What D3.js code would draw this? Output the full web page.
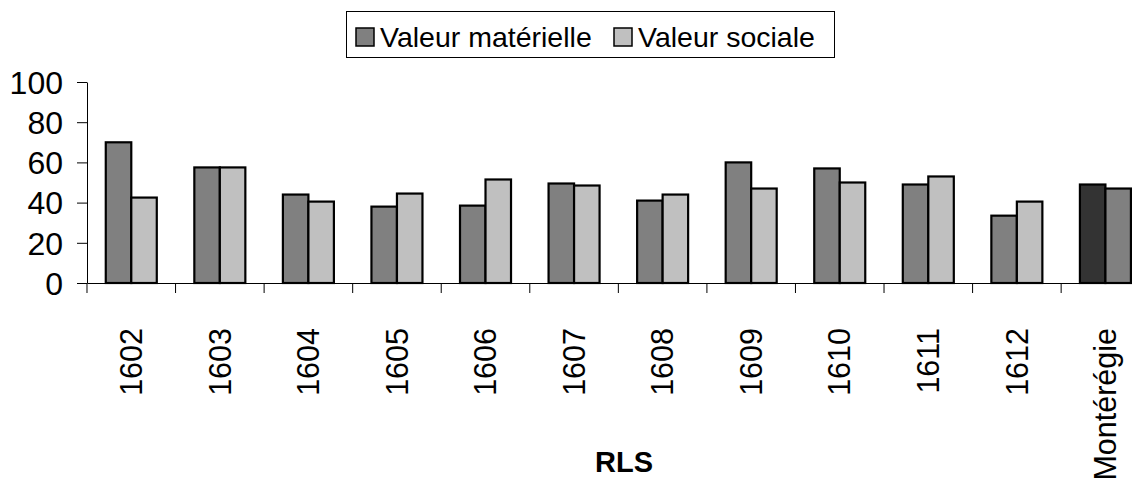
<!DOCTYPE html>
<meta charset="utf-8">
<script src="https://d3js.org/d3.v7.min.js"></script>
<style>
  body { margin: 0; background: #fff; }
</style>
<div id="chart"></div>
<script>

var categories = ["1602", "1603", "1604", "1605", "1606", "1607", "1608", "1609", "1610", "1611", "1612", "Montérégie"];
var seriesNames = ["Valeur matérielle", "Valeur sociale"];
var materielle = [70, 57.5, 44, 38, 38.5, 49.5, 41, 60, 57, 49, 33.5, 49];
var sociale = [42.5, 57.5, 40.5, 44.5, 51.5, 48.5, 44, 47, 50, 53, 40.5, 47];
var yTicks = [0, 20, 40, 60, 80, 100];

var W = 1132, H = 484;
var margin = {top: 82, left: 87},
    plotW = 1062.7,
    plotH = 201;

var font = "Liberation Sans, Arial, sans-serif";

var svg = d3.select("#chart").append("svg")
    .attr("width", W)
    .attr("height", H)
    .style("display", "block");

var x0 = d3.scaleBand().domain(categories).range([margin.left, margin.left + plotW]).padding(0);
var x1 = d3.scaleBand().domain(seriesNames).range([x0.bandwidth() * 0.212, x0.bandwidth() * 0.788]).padding(0);
var y = d3.scaleLinear().domain([0, 100]).range([margin.top + plotH, margin.top]);

var fills = ["#808080", "#c0c0c0"];
var fillsLast = ["#333333", "#808080"];

// y axis
var yAxis = svg.append("g")
    .attr("transform", "translate(" + margin.left + ",0)")
    .call(d3.axisLeft(y).tickValues(yTicks).tickSize(10).tickPadding(14).tickSizeOuter(0));
yAxis.select(".domain").attr("stroke", "#000");
yAxis.selectAll(".tick line").attr("stroke", "#000");
yAxis.selectAll("text")
    .style("font-family", font)
    .style("font-size", "32px")
    .attr("fill", "#000")
    .attr("dy", "0.35em");

// x axis, ticks between groups
var xAxis = svg.append("g")
    .attr("transform", "translate(0," + y(0) + ")")
    .call(d3.axisBottom(x0).tickSize(10).tickSizeOuter(0));
xAxis.select(".domain").attr("stroke", "#000");
xAxis.selectAll(".tick line")
    .attr("stroke", "#000")
    .attr("transform", "translate(" + (-x0.bandwidth() / 2) + ",0)");
xAxis.selectAll("text")
    .style("font-family", font)
    .style("font-size", "30.5px")
    .attr("fill", "#000")
    .attr("y", 0)
    .attr("dy", "0.35em")
    .attr("text-anchor", "end")
    .attr("transform", "translate(0,45) rotate(-90)");

// bars
var rows = categories.map(function(c, i) {
  return {cat: c, values: [
    {name: seriesNames[0], value: materielle[i], k: 0},
    {name: seriesNames[1], value: sociale[i], k: 1}
  ]};
});

var slice = svg.selectAll(".slice")
    .data(rows)
    .enter().append("g")
    .attr("class", "slice")
    .attr("transform", function(d) { return "translate(" + x0(d.cat) + ",0)"; });

slice.selectAll("rect")
    .data(function(d) { return d.values.map(function(v) { v.last = d.cat === "Montérégie"; return v; }); })
    .enter().append("rect")
    .attr("x", function(d) { return x1(d.name); })
    .attr("width", x1.bandwidth())
    .attr("y", function(d) { return y(d.value); })
    .attr("height", function(d) { return y(0) - y(d.value); })
    .attr("fill", function(d) { return d.last ? fillsLast[d.k] : fills[d.k]; })
    .attr("stroke", "#000")
    .attr("stroke-width", 2.2);

// axis title
svg.append("text")
    .attr("x", 624)
    .attr("y", 472)
    .attr("text-anchor", "middle")
    .style("font-family", font)
    .style("font-size", "29px")
    .style("font-weight", "bold")
    .text("RLS");

// legend
var legend = svg.append("g");
legend.append("rect")
    .attr("x", 346.5)
    .attr("y", 11.5)
    .attr("width", 488)
    .attr("height", 46)
    .attr("fill", "#fff")
    .attr("stroke", "#000")
    .attr("stroke-width", 1);

var legX = [356, 614];
var item = legend.selectAll(".legend")
    .data(seriesNames)
    .enter().append("g")
    .attr("class", "legend")
    .attr("transform", function(d, i) { return "translate(" + legX[i] + ",28)"; });

item.append("rect")
    .attr("width", 18)
    .attr("height", 18)
    .attr("fill", function(d, i) { return fills[i]; })
    .attr("stroke", "#000")
    .attr("stroke-width", 1.5);

item.append("text")
    .attr("x", 24)
    .attr("y", 19)
    .style("font-family", font)
    .style("font-size", "28.5px")
    .attr("fill", "#000")
    .text(function(d) { return d; });

</script>
